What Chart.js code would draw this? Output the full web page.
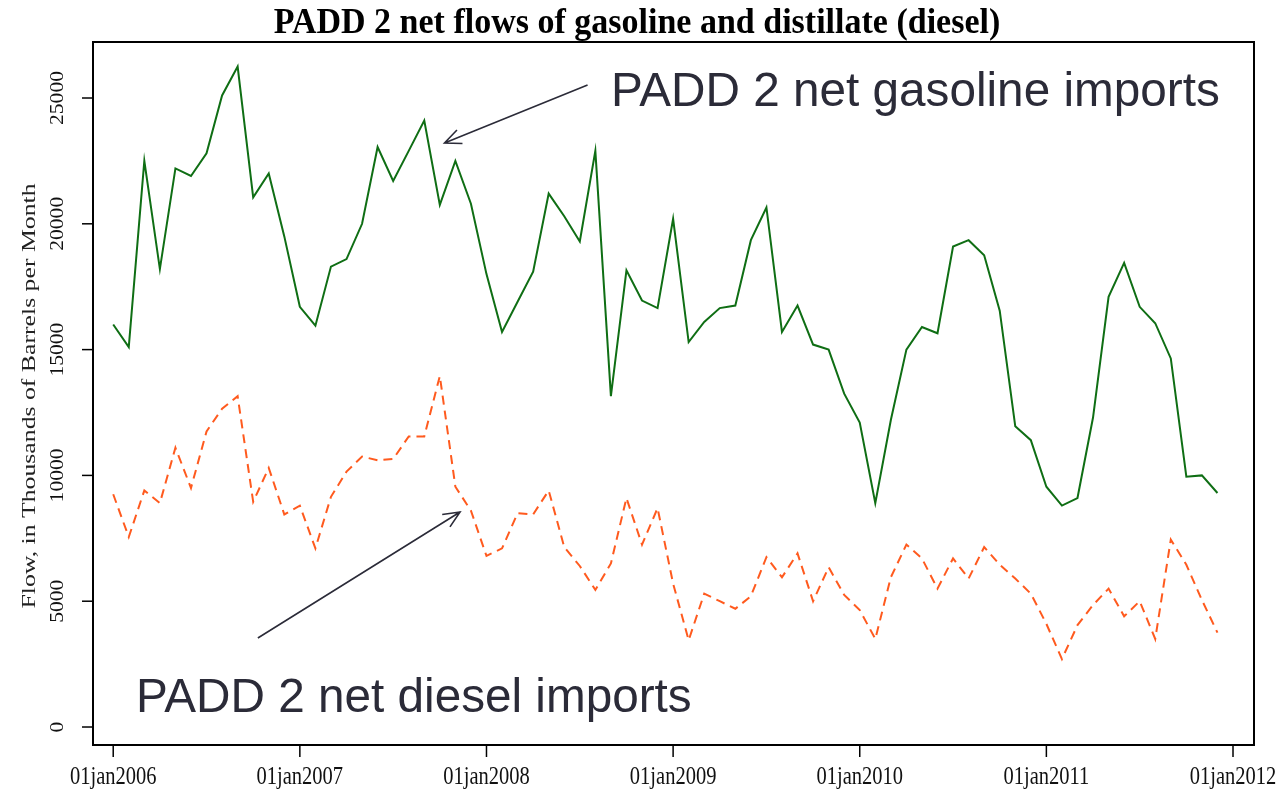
<!DOCTYPE html>
<html>
<head>
<meta charset="utf-8">
<script src="https://cdn.jsdelivr.net/npm/chart.js@4"></script>
<style>
  html, body { margin: 0; padding: 0; background: #fff; }
  #wrap { width: 1280px; height: 793px; }
</style>
</head>
<body>
<div id="wrap"><canvas id="flows" width="1280" height="793"></canvas></div>
<script>
'use strict';

// monthly series, jan2006 .. dec2011 (thousands of barrels per month)
const years = [2006, 2007, 2008, 2009, 2010, 2011];
const monthNames = ['jan', 'feb', 'mar', 'apr', 'may', 'jun', 'jul', 'aug', 'sep', 'oct', 'nov', 'dec'];

const gasoline = [
    16000, 15100, 22500, 18200, 22200, 21900, 22800, 25100, 26250, 21050, 22000, 19500,
    16700, 15950, 18300, 18600, 20000, 23050, 21700, 22900, 24100, 20750, 22500, 20800,
    18000, 15700, 16900, 18100, 21200, 20300, 19300, 22900, 13150, 18150, 16950, 16650,
    20200, 15300, 16100, 16650, 16750, 19350, 20650, 15700, 16750, 15200, 15000, 13250,
    12100, 8900, 12200, 15000, 15900, 15650, 19100, 19350, 18750, 16550, 11950, 11400,
    9550, 8800, 9100, 12300, 17100, 18450, 16700, 16050, 14650, 9950, 10000, 9300
];

const diesel = [
    9250, 7550, 9400, 8900, 11100, 9500, 11750, 12650, 13150, 8950, 10300, 8450,
    8800, 7100, 9150, 10150, 10750, 10600, 10650, 11550, 11550, 13950, 9550, 8600,
    6800, 7100, 8500, 8450, 9400, 7150, 6400, 5450, 6500, 9100, 7250, 8700,
    5700, 3450, 5300, 5000, 4700, 5200, 6750, 5950, 6900, 5000, 6350, 5250,
    4650, 3500, 5950, 7250, 6700, 5500, 6700, 5900, 7150, 6450, 5900, 5300,
    4100, 2700, 4050, 4850, 5500, 4400, 5000, 3500, 7450, 6450, 5050, 3750
];

const xTickLabels = ['01jan2006', '01jan2007', '01jan2008', '01jan2009', '01jan2010', '01jan2011', '01jan2012'];
const yTickValues = [0, 5000, 10000, 15000, 20000, 25000];

// annotation arrows in data units: [month index, flow]
const gasArrow = { from: [30.5, 25520], to: [21.3, 23214] };
const dieselArrow = { from: [9.3, 3538], to: [22.3, 8546] };

// build month categories from the year/month lists
const categories = [];
years.forEach(y => monthNames.forEach(m => categories.push('01' + m + y)));

const toPoints = arr => arr.map((v, i) => ({ x: i, y: v }));

// serif text in the source graph is stretched vertically
function drawStretched(ctx, text, x, y, font, sy, rotated, align, baseline) {
    ctx.save();
    ctx.translate(x, y);
    ctx.scale(1, sy);
    if (rotated) ctx.rotate(-Math.PI / 2);
    ctx.font = font;
    ctx.textAlign = align || 'center';
    ctx.textBaseline = baseline || 'middle';
    ctx.fillText(text, 0, 0);
    ctx.restore();
}

function drawArrow(ctx, x0, y0, x1, y1) {
    const ang = Math.atan2(y1 - y0, x1 - x0);
    const len = 18, spread = 0.42;
    ctx.beginPath();
    ctx.moveTo(x0, y0);
    ctx.lineTo(x1, y1);
    ctx.moveTo(x1 - len * Math.cos(ang - spread), y1 - len * Math.sin(ang - spread));
    ctx.lineTo(x1, y1);
    ctx.lineTo(x1 - len * Math.cos(ang + spread), y1 - len * Math.sin(ang + spread));
    ctx.stroke();
}

const decorations = {
    id: 'decorations',
    afterDraw(chart) {
        const ctx = chart.ctx;
        const area = chart.chartArea;
        const xs = chart.scales.x;
        const ys = chart.scales.y;

        // plot frame
        ctx.save();
        ctx.strokeStyle = '#000';
        ctx.lineWidth = 2;
        ctx.strokeRect(area.left, area.top, area.right - area.left, area.bottom - area.top);

        // ticks
        ctx.lineWidth = 1.5;
        ctx.fillStyle = '#111';
        yTickValues.forEach(v => {
            const py = ys.getPixelForValue(v);
            ctx.beginPath();
            ctx.moveTo(area.left - 11, py);
            ctx.lineTo(area.left, py);
            ctx.stroke();
            drawStretched(ctx, String(v), 58, py, '18px "Liberation Serif"', 1.2, true);
        });
        xTickLabels.forEach((lab, k) => {
            const px = xs.getPixelForValue(k * 12);
            ctx.beginPath();
            ctx.moveTo(px, area.bottom);
            ctx.lineTo(px, area.bottom + 12);
            ctx.stroke();
            drawStretched(ctx, lab, px, 777, '20.5px "Liberation Serif"', 1.25, false);
        });

        // axis title and chart title
        ctx.fillStyle = '#222';
        drawStretched(ctx, 'Flow, in Thousands of Barrels per Month', 30, 396, '19.5px "Liberation Serif"', 1.32, true);
        ctx.fillStyle = '#000';
        drawStretched(ctx, 'PADD 2 net flows of gasoline and distillate (diesel)', 637, 33,
            'bold 34px "Liberation Serif"', 1.05, false, 'center', 'alphabetic');

        // annotations
        ctx.fillStyle = '#2b2b38';
        ctx.strokeStyle = '#2b2b38';
        ctx.lineWidth = 1.6;
        ctx.font = '47.7px "Liberation Sans"';
        ctx.textAlign = 'left';
        ctx.textBaseline = 'alphabetic';
        ctx.fillText('PADD 2 net gasoline imports', 611, 106);
        ctx.fillText('PADD 2 net diesel imports', 136, 712);
        [gasArrow, dieselArrow].forEach(a => {
            drawArrow(ctx,
                xs.getPixelForValue(a.from[0]), ys.getPixelForValue(a.from[1]),
                xs.getPixelForValue(a.to[0]), ys.getPixelForValue(a.to[1]));
        });
        ctx.restore();
    }
};

const chart = new Chart(document.getElementById('flows'), {
    type: 'line',
    data: {
        labels: categories,
        datasets: [
            {
                label: 'PADD 2 net gasoline imports',
                data: toPoints(gasoline),
                borderColor: '#0f6e14',
                borderWidth: 2,
                pointRadius: 0,
                tension: 0,
                fill: false
            },
            {
                label: 'PADD 2 net diesel imports',
                data: toPoints(diesel),
                borderColor: '#ff5a1e',
                borderWidth: 2,
                borderDash: [9, 6],
                pointRadius: 0,
                tension: 0,
                fill: false
            }
        ]
    },
    options: {
        responsive: false,
        devicePixelRatio: 1,
        animation: false,
        layout: { padding: { left: 93, right: 26, top: 42, bottom: 48 } },
        plugins: {
            legend: { display: false },
            title: { display: false },
            tooltip: { enabled: false }
        },
        scales: {
            x: { type: 'linear', min: -1.3, max: 73.35, display: false },
            y: { type: 'linear', min: -715, max: 27226, display: false }
        }
    },
    plugins: [decorations]
});
</script>
</body>
</html>
